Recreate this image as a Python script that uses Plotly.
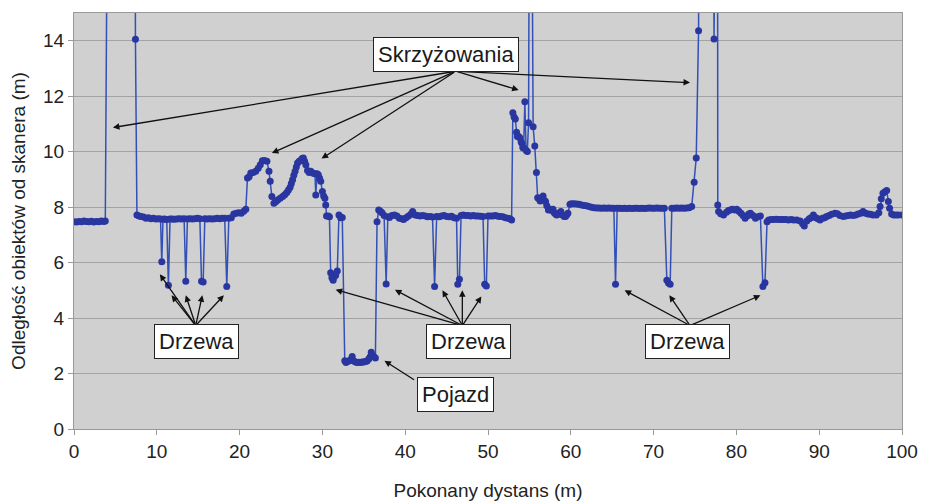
import plotly.graph_objects as go

# ---- data (distance travelled [m], distance to object [m]) ----
# values > 15 are beyond the visible range (open space / intersections)
x_start = [0.0, 0.3, 0.6, 0.9, 1.2, 1.5, 1.8, 2.1, 2.4, 2.7, 3.0, 3.3, 3.6, 3.78,
           4.25, 5.0, 6.0, 7.3]
y_start = [7.47, 7.46, 7.48, 7.47, 7.5, 7.48, 7.47, 7.49, 7.46, 7.48, 7.47, 7.5, 7.48, 7.5,
           30, 30, 30, 30]

x_trees1 = [7.42, 7.6, 7.85, 8.1, 8.4, 8.7, 9.0, 9.3, 9.6, 9.9, 10.2, 10.45,
            10.6, 10.75, 10.95, 11.2, 11.4, 11.6, 11.85, 12.1, 12.4, 12.7, 13.0, 13.3,
            13.5, 13.7, 14.0, 14.3, 14.6, 14.9, 15.2, 15.4, 15.6, 15.8, 16.1, 16.4,
            16.7, 17.0, 17.3, 17.6, 17.9, 18.2, 18.45, 18.7, 19.0, 19.3, 19.6, 19.9,
            20.2, 20.5, 20.75]
y_trees1 = [14.05, 7.72, 7.68, 7.66, 7.64, 7.6, 7.62, 7.58, 7.6, 7.57, 7.58, 7.57,
            6.03, 7.56, 7.57, 7.55, 5.18, 7.57, 7.57, 7.56, 7.57, 7.58, 7.57, 7.58,
            5.33, 7.57, 7.58, 7.57, 7.58, 7.6, 7.58, 5.33, 5.3, 7.58, 7.57, 7.58,
            7.57, 7.58, 7.6, 7.58, 7.6, 7.6, 5.14, 7.6, 7.62, 7.75, 7.78, 7.8,
            7.78, 7.85, 7.92]

x_hump = [20.95, 21.15, 21.35, 21.65, 21.95, 22.25, 22.5, 22.75, 23.0, 23.3, 23.55, 23.7,
          23.9, 24.15, 24.4, 24.6, 24.9, 25.2, 25.45, 25.7, 25.9, 26.1, 26.25, 26.4,
          26.55, 26.7, 26.85, 27.0, 27.2, 27.4, 27.55, 27.7, 27.85, 28.0, 28.2, 28.4,
          28.6, 28.9, 29.1, 29.2, 29.35, 29.5, 29.65, 29.8, 30.0, 30.15, 30.3, 30.4,
          30.5, 30.7, 30.85]
y_hump = [9.05, 9.1, 9.23, 9.25, 9.29, 9.4, 9.53, 9.67, 9.68, 9.65, 9.29, 8.93,
          8.38, 8.14, 8.2, 8.26, 8.32, 8.38, 8.45, 8.53, 8.62, 8.72, 8.85, 8.99,
          9.15, 9.29, 9.45, 9.59, 9.65, 9.69, 9.75, 9.77, 9.65, 9.53, 9.32, 9.25,
          9.29, 9.22, 9.2, 8.44, 9.2, 9.17, 9.05, 8.93, 8.56, 8.4, 8.32, 8.08,
          7.68, 7.68, 7.65]

x_car = [31.0, 31.15, 31.3, 31.45, 31.6, 31.8, 32.0, 32.2, 32.4,
         32.7, 32.85, 33.0, 33.2, 33.4, 33.6, 33.8, 34.0, 34.2, 34.4, 34.6, 34.8,
         35.0, 35.2, 35.4, 35.6, 35.75, 35.9, 36.05, 36.2, 36.4]
y_car = [5.63, 5.45, 5.36, 5.5, 5.54, 5.7, 7.72, 7.62, 7.63,
         2.46, 2.4, 2.43, 2.45, 2.5, 2.61, 2.45, 2.42, 2.4, 2.41, 2.4, 2.42,
         2.42, 2.43, 2.45, 2.52, 2.6, 2.77, 2.65, 2.61, 2.56]

x_trees2 = [36.6, 36.8, 37.0, 37.2, 37.45, 37.7, 37.9, 38.1, 38.4, 38.7, 39.0, 39.3,
            39.6, 39.8, 40.1, 40.4, 40.7, 40.9, 41.2, 41.5, 41.8, 42.1, 42.4, 42.7,
            43.0, 43.3, 43.55, 43.8, 44.1, 44.4, 44.7, 45.0, 45.3, 45.6, 45.9, 46.2,
            46.35, 46.55, 46.75, 47.0, 47.3, 47.6, 47.9, 48.2, 48.5, 48.8, 49.1, 49.4,
            49.6, 49.8, 50.0, 50.3, 50.6, 50.9, 51.2, 51.5, 51.8, 52.1, 52.4, 52.65,
            52.85]
y_trees2 = [7.47, 7.9, 7.85, 7.8, 7.7, 5.23, 7.65, 7.63, 7.7, 7.72, 7.68, 7.6,
            7.58, 7.55, 7.62, 7.68, 7.75, 7.84, 7.72, 7.7, 7.68, 7.7, 7.68, 7.65,
            7.66, 7.64, 5.14, 7.66, 7.65, 7.68, 7.7, 7.66, 7.65, 7.67, 7.62, 7.6,
            5.22, 5.4, 7.7, 7.72, 7.7, 7.7, 7.68, 7.7, 7.68, 7.68, 7.67, 7.66,
            5.22, 5.16, 7.68, 7.68, 7.68, 7.7, 7.67, 7.66, 7.65, 7.62, 7.6, 7.58,
            7.54]

x_cross = [53.0, 53.15, 53.3, 53.45, 53.55, 53.7, 53.85, 54.0, 54.1, 54.2, 54.3, 54.45,
           54.6, 54.75, 54.9, 55.1, 55.3, 55.45, 55.65, 55.85, 56.0, 56.15, 56.3, 56.5,
           56.65, 56.8, 56.95, 57.1, 57.3, 57.5, 57.7, 57.85, 58.0, 58.15, 58.3, 58.5,
           58.65, 58.8, 59.0, 59.2, 59.35, 59.5, 59.65]
y_cross = [11.4, 11.25, 11.18, 10.7, 10.55, 10.55, 10.5, 10.35, 10.3, 10.15, 10.13, 11.8,
           10.05, 10.01, 11.04, 30, 30, 10.9, 10.2, 9.25, 8.34, 8.3, 8.22, 8.35,
           8.4, 8.25, 8.2, 8.05, 7.9, 7.92, 7.88, 7.92, 7.8, 7.75, 7.72, 7.74,
           7.8, 7.84, 7.72, 7.66, 7.66, 7.72, 7.78]

x_trees3 = [59.9, 60.1, 60.4, 60.7, 61.0, 61.3, 61.6, 61.9, 62.2, 62.5, 62.8, 63.1,
            63.4, 63.7, 64.0, 64.3, 64.6, 64.9, 65.2, 65.4, 65.6, 65.9, 66.2, 66.5,
            66.8, 67.1, 67.4, 67.7, 68.0, 68.3, 68.6, 68.9, 69.2, 69.5, 69.8, 70.1,
            70.4, 70.7, 71.0, 71.3, 71.6, 71.8, 72.0, 72.2, 72.5, 72.8, 73.1, 73.4,
            73.7, 74.0, 74.3, 74.6, 74.9, 75.15, 75.43, 75.6, 77.1, 77.3, 77.5, 77.7]
y_trees3 = [8.1, 8.12, 8.12, 8.11, 8.1, 8.08, 8.06, 8.05, 8.02, 8.0, 7.98, 7.97,
            7.97, 7.96, 7.97, 7.96, 7.97, 7.96, 7.96, 5.22, 7.96, 7.96, 7.95, 7.96,
            7.95, 7.96, 7.95, 7.96, 7.96, 7.95, 7.96, 7.95, 7.96, 7.97, 7.96, 7.96,
            7.97, 7.96, 7.96, 7.96, 5.36, 5.26, 5.22, 7.96, 7.96, 7.97, 7.96, 7.97,
            7.96, 7.97, 7.98, 8.02, 8.9, 9.77, 14.36, 30, 30, 14.06, 30, 30]

x_end = [77.75, 77.85, 78.1, 78.45, 78.8, 79.05, 79.25, 79.5, 79.8, 80.05, 80.3, 80.55,
         80.8, 81.05, 81.3, 81.5, 81.7, 82.0, 82.3, 82.6, 82.9, 83.2, 83.45, 83.7,
         83.9, 84.2, 84.5, 84.8, 85.1, 85.4, 85.7, 86.0, 86.3, 86.6, 86.9, 87.3,
         87.7, 88.0, 88.2, 88.5, 88.8, 89.0, 89.3, 89.6, 89.85, 90.1, 90.4, 90.65,
         90.9, 91.2, 91.5, 91.9, 92.2, 92.5, 92.9, 93.2, 93.5, 93.8, 94.1, 94.4,
         94.7, 95.0, 95.3, 95.6, 95.9, 96.2, 96.5, 96.9, 97.2, 97.35, 97.5, 97.7,
         97.9, 98.15, 98.35, 98.5, 98.75, 99.0, 99.3, 99.6, 100.0]
y_end = [8.08, 7.84, 7.76, 7.72, 7.82, 7.88, 7.9, 7.92, 7.9, 7.92, 7.85, 7.78,
         7.7, 7.6, 7.68, 7.75, 7.78, 7.7, 7.6, 7.65, 7.68, 5.14, 5.27, 7.47,
         7.54, 7.55, 7.55, 7.56, 7.55, 7.55, 7.55, 7.55, 7.54, 7.55, 7.54, 7.54,
         7.5, 7.4, 7.32, 7.5, 7.58, 7.62, 7.72, 7.62, 7.58, 7.54, 7.6, 7.62,
         7.66, 7.7, 7.74, 7.78, 7.76, 7.7, 7.66, 7.68, 7.7, 7.72, 7.7, 7.72,
         7.75, 7.78, 7.84, 7.78, 7.75, 7.74, 7.72, 7.72, 7.8, 8.02, 8.3, 8.5,
         8.55, 8.6, 8.2, 7.96, 7.75, 7.72, 7.72, 7.72, 7.72]

dist = x_start + x_trees1 + x_hump + x_car + x_trees2 + x_cross + x_trees3 + x_end
rng = y_start + y_trees1 + y_hump + y_car + y_trees2 + y_cross + y_trees3 + y_end

x_ticks = [0, 10, 20, 30, 40, 50, 60, 70, 80, 90, 100]
y_ticks = [0, 2, 4, 6, 8, 10, 12, 14]

# labels: (text, x, y) box centres in data units
labels = [
    ("Skrzyżowania", 44.9, 13.5),
    ("Drzewa", 14.78, 3.15),
    ("Drzewa", 47.7, 3.15),
    ("Drzewa", 74.1, 3.15),
    ("Pojazd", 46.1, 1.23),
]
# arrows: (tail x, tail y, head x, head y)
arrows = [
    (46.1, 12.9, 4.7, 10.87),
    (46.1, 12.9, 23.9, 9.95),
    (46.1, 12.9, 29.9, 9.75),
    (46.1, 12.9, 53.7, 12.22),
    (46.1, 12.9, 74.4, 12.49),
    (14.7, 3.73, 10.37, 5.58),
    (14.7, 3.73, 11.78, 4.82),
    (14.7, 3.73, 13.5, 4.82),
    (14.7, 3.73, 15.5, 4.82),
    (14.7, 3.73, 18.1, 4.82),
    (46.9, 3.73, 31.6, 5.02),
    (46.9, 3.73, 38.76, 5.02),
    (46.9, 3.73, 44.5, 5.0),
    (46.9, 3.73, 46.9, 5.0),
    (46.9, 3.73, 49.2, 4.78),
    (74.4, 3.73, 66.5, 5.0),
    (74.4, 3.73, 71.9, 4.82),
    (74.4, 3.73, 82.9, 4.82),
    (41.25, 1.74, 37.5, 2.46),
]

fig = go.Figure()
fig.add_trace(go.Scatter(
    x=dist, y=rng, mode="lines+markers",
    line=dict(color="#3350b8", width=1.5),
    marker=dict(color="#2a36a0", size=7),
    showlegend=False, cliponaxis=True,
))

annotations = []
for tx, ty, hx, hy in arrows:
    annotations.append(dict(
        x=hx, y=hy, ax=tx, ay=ty, xref="x", yref="y", axref="x", ayref="y",
        text="", showarrow=True, arrowhead=2, arrowsize=1, arrowwidth=1.3,
        arrowcolor="#111111", standoff=0, startstandoff=0,
    ))
for text, lx, ly in labels:
    annotations.append(dict(
        x=lx, y=ly, xref="x", yref="y", text=text, showarrow=False,
        font=dict(family="Liberation Sans, Arial, sans-serif", size=22, color="#1a1a1a"),
        bgcolor="white", bordercolor="#222222", borderwidth=1, borderpad=4,
    ))

axis_font = dict(family="Liberation Sans, Arial, sans-serif", size=19, color="#222222")
fig.update_layout(
    width=933, height=502,
    margin=dict(l=66, r=39, t=5, b=81),
    paper_bgcolor="white", plot_bgcolor="#d0d0d0",
    annotations=annotations,
    font=axis_font,
    xaxis=dict(
        range=[0, 100], tickvals=x_ticks, ticktext=[str(v) for v in x_ticks],
        showgrid=False, zeroline=False, showline=True, linecolor="#999999",
        mirror=True, ticks="outside", ticklen=5, tickcolor="#999999",
        tickfont=axis_font,
        title=dict(text="Pokonany dystans (m)", font=axis_font, standoff=22),
    ),
    yaxis=dict(
        range=[0, 15], tickvals=y_ticks, ticktext=[str(v) for v in y_ticks],
        showgrid=True, gridcolor="#a3a3a3", gridwidth=1, zeroline=False,
        showline=True, linecolor="#999999", mirror=True,
        ticks="outside", ticklen=5, tickcolor="#999999", tickfont=axis_font,
        title=dict(text="Odległość obiektów od skanera (m)", font=axis_font, standoff=12),
    ),
)

fig.write_html("out.html")
